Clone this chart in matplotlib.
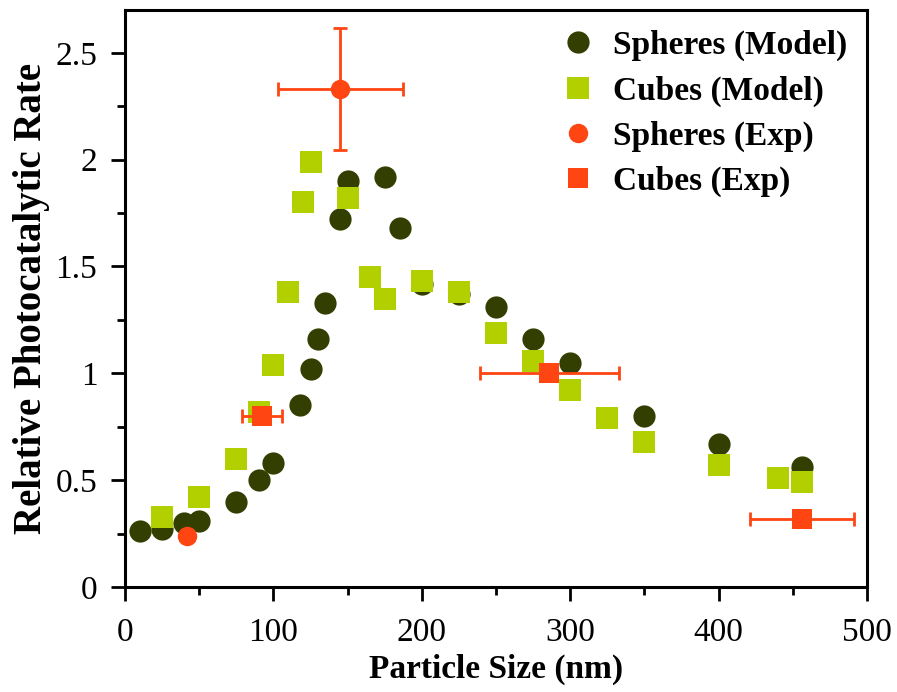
import numpy as np
import matplotlib
matplotlib.use("Agg")
from matplotlib import pyplot as plt
from matplotlib.ticker import MultipleLocator

# model curves
sph_size = [10, 25, 40, 50, 75, 90, 100, 118, 125, 130, 135, 145, 150, 175, 185,
            200, 225, 250, 275, 300, 350, 400, 456]
sph_rate = [0.26, 0.27, 0.30, 0.31, 0.40, 0.50, 0.58, 0.85, 1.02, 1.16, 1.33, 1.72,
            1.90, 1.92, 1.68, 1.42, 1.37, 1.31, 1.16, 1.05, 0.80, 0.67, 0.56]
cub_size = [25, 50, 75, 90, 100, 110, 120, 125, 150, 165, 175, 200, 225, 250, 275,
            300, 325, 350, 400, 440, 456]
cub_rate = [0.33, 0.42, 0.60, 0.82, 1.04, 1.38, 1.80, 1.99, 1.82, 1.45, 1.35, 1.43,
            1.38, 1.19, 1.06, 0.92, 0.79, 0.68, 0.57, 0.51, 0.49]

# experiments
sph_exp_size = [42, 145]
sph_exp_rate = [0.24, 2.33]
sph_exp_xerr = [0, 42]
sph_exp_yerr = [0, 0.285]
cub_exp_size = [92, 286, 456]
cub_exp_rate = [0.80, 1.00, 0.32]
cub_exp_xerr = [13.5, 47, 35]

dark = "#333f00"
lime = "#b2d000"
red = "#ff4512"

plt.rcParams["font.family"] = ["Liberation Serif", "DejaVu Serif"]

fig = plt.figure(figsize=(8.97, 6.92), dpi=100)
ax = fig.add_axes([0.1394, 0.1517, 0.8272, 0.8338])

ms = 16
ax.plot(sph_size, sph_rate, "o", color=dark, ms=ms, mew=0, label="Spheres (Model)", zorder=3)
ax.plot(cub_size, cub_rate, "s", color=lime, ms=ms, mew=0, label="Cubes (Model)", zorder=4)
ebkw = dict(fmt="none", ecolor=red, elinewidth=2.0, capsize=5, capthick=2.0, zorder=5)
ax.errorbar(sph_exp_size[1:], sph_exp_rate[1:], xerr=sph_exp_xerr[1:],
            yerr=sph_exp_yerr[1:], **ebkw)
ax.errorbar(cub_exp_size, cub_exp_rate, xerr=cub_exp_xerr, **ebkw)
ax.plot(sph_exp_size, sph_exp_rate, "o", color=red, ms=14, mew=0, label="Spheres (Exp)", zorder=6)
ax.plot(cub_exp_size, cub_exp_rate, "s", color=red, ms=14, mew=0, label="Cubes (Exp)", zorder=6)

ax.set_xlim(0, 500)
ax.set_ylim(0, 2.7)
ax.xaxis.set_major_locator(MultipleLocator(100))
ax.xaxis.set_minor_locator(MultipleLocator(50))
ax.yaxis.set_minor_locator(MultipleLocator(0.25))
ax.set_yticks([0, 0.5, 1, 1.5, 2, 2.5], ["0", "0.5", "1", "1.5", "2", "2.5"])

for s in ax.spines.values():
    s.set_linewidth(2.2)
ax.tick_params(which="major", direction="out", length=10, width=2, labelsize=24,
               top=False, right=False)
ax.tick_params(axis="x", which="major", pad=12)
ax.tick_params(axis="y", which="major", pad=10)
ax.tick_params(which="minor", direction="out", length=6, width=2, top=False, right=False)

ax.set_xlabel("Particle Size (nm)", fontsize=24, fontweight="bold", labelpad=4)
ax.set_ylabel("Relative Photocatalytic Rate", fontsize=28, fontweight="bold", labelpad=4)

ax.legend(loc="upper right", frameon=False, prop={"size": 24, "weight": "bold"},
          handletextpad=0.45, labelspacing=0.42, borderaxespad=0.2, handlelength=1.2)

fig.savefig("out.png", dpi=100)
